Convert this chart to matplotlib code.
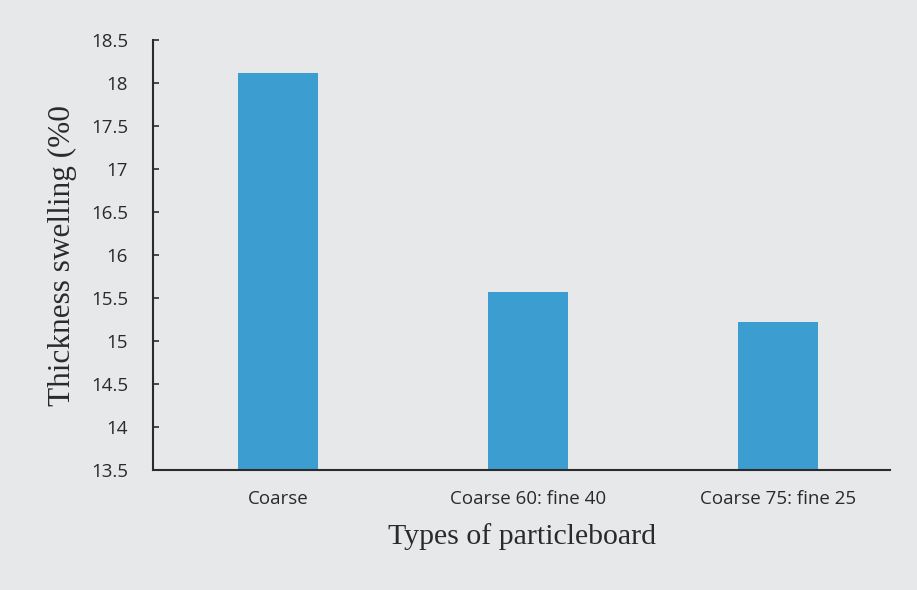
import matplotlib
matplotlib.use("Agg")
import matplotlib.pyplot as plt

categories = ["Coarse", "Coarse 60: fine 40", "Coarse 75: fine 25"]
swelling = [18.12, 15.57, 15.22]
yticks = [13.5, 14, 14.5, 15, 15.5, 16, 16.5, 17, 17.5, 18, 18.5]

bg = "#e7e8ea"
fig = plt.figure(figsize=(9.17, 5.9), dpi=100, facecolor=bg)
ax = fig.add_axes([0.167, 0.203, 0.804, 0.729], facecolor=bg)

x = list(range(len(categories)))
ax.bar(x, swelling, width=0.32, color="#3b9dd0", zorder=2)

ax.set_ylim(13.5, 18.5)
ax.set_xlim(-0.5, 2.45)
ax.set_yticks(yticks)
ax.set_yticklabels([f"{t:g}" for t in yticks], fontfamily="Open Sans",
                   fontsize=13.5, color="#2a2a2a")
ax.set_xticks(x)
ax.set_xticklabels(categories, fontfamily="Open Sans", fontsize=13.5, color="#2a2a2a")

for s in ("top", "right"):
    ax.spines[s].set_visible(False)
for s in ("left", "bottom"):
    ax.spines[s].set_color("#2b2b2b")
    ax.spines[s].set_linewidth(1.5)

ax.tick_params(axis="y", direction="in", length=4, width=1.2, color="#2b2b2b", pad=18)
ax.tick_params(axis="x", length=0, pad=14)

ax.set_ylabel("Thickness swelling (%0", fontfamily="Liberation Serif",
              fontsize=22.5, color="#2a2a2a", labelpad=10)
ax.set_xlabel("Types of particleboard", fontfamily="Liberation Serif",
              fontsize=21.5, color="#2a2a2a", labelpad=11)

fig.savefig("out.png", dpi=100, facecolor=bg)
